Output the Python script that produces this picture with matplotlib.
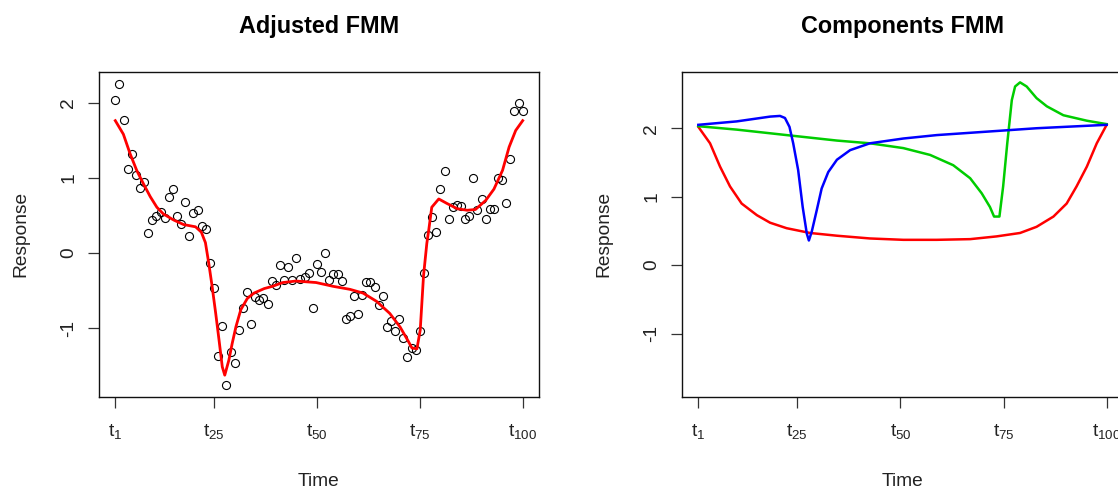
import numpy as np
import matplotlib.pyplot as plt

plt.rcParams['font.family'] = ['Liberation Sans', 'DejaVu Sans']
plt.rcParams['mathtext.fontset'] = 'custom'
plt.rcParams['mathtext.rm'] = 'Liberation Sans'
plt.rcParams['mathtext.it'] = 'Liberation Sans'

# observed responses at t1..t100
time = np.arange(1, 101)
response = [
    2.03, 2.25, 1.77, 1.12, 1.32, 1.04, 0.87, 0.94, 0.27, 0.44,
    0.49, 0.55, 0.47, 0.74, 0.85, 0.49, 0.39, 0.68, 0.23, 0.53,
    0.57, 0.36, 0.32, -0.13, -0.46, -1.36, -0.97, -1.75, -1.31, -1.46,
    -1.02, -0.73, -0.52, -0.94, -0.58, -0.62, -0.60, -0.67, -0.37, -0.42,
    -0.16, -0.35, -0.19, -0.35, -0.06, -0.34, -0.31, -0.26, -0.73, -0.15,
    -0.25, 0.00, -0.35, -0.28, -0.28, -0.37, -0.88, -0.84, -0.57, -0.81,
    -0.55, -0.38, -0.38, -0.45, -0.69, -0.57, -0.98, -0.90, -1.03, -0.88,
    -1.13, -1.38, -1.26, -1.29, -1.04, -0.26, 0.24, 0.48, 0.28, 0.85,
    1.09, 0.46, 0.61, 0.64, 0.63, 0.46, 0.49, 1.00, 0.58, 0.72,
    0.45, 0.59, 0.59, 1.00, 0.97, 0.67, 1.25, 1.89, 2.00, 1.89,
]

# fitted FMM curve
fit_t = [1, 2.96, 4.6, 6.2, 7.85, 9.5, 11.1, 12.7, 15.2, 17.6, 20.5, 21.9,
         22.9, 23.7, 24.5, 25.4, 26.2, 27.0, 27.6, 28.6, 29.4, 30.3, 31.5,
         33.1, 34.7, 37.2, 39.2, 41.7, 44.9, 49.8, 53.9, 58.0, 61.2, 64.5,
         67.7, 70.2, 72.2, 73.1, 74.3, 75.1, 75.9, 76.7, 77.2, 77.9, 79.6,
         81.6, 84.1, 86.5, 88.5, 91.0, 93.0, 95.1, 96.7, 98.3, 100]
fit_y = [1.76, 1.58, 1.32, 1.10, 0.92, 0.75, 0.61, 0.52, 0.44, 0.38, 0.35, 0.28,
         0.14, -0.13, -0.43, -0.80, -1.15, -1.51, -1.62, -1.42, -1.20, -0.98, -0.75,
         -0.60, -0.53, -0.47, -0.44, -0.39, -0.37, -0.39, -0.44, -0.48, -0.53, -0.64,
         -0.80, -0.98, -1.17, -1.26, -1.27, -1.02, -0.30, 0.13, 0.32, 0.61, 0.72,
         0.66, 0.59, 0.57, 0.58, 0.70, 0.85, 1.10, 1.41, 1.63, 1.76]

# components
red_t = [1, 3.84, 6.26, 8.68, 11.5, 15.2, 18.4, 22.4, 28.1, 34.6, 42.6, 50.7,
         58.8, 66.9, 73.3, 79.0, 83.0, 87.1, 90.3, 92.7, 95.2, 97.6, 100]
red_y = [2.02, 1.78, 1.44, 1.15, 0.90, 0.73, 0.62, 0.54, 0.47, 0.43, 0.39, 0.37,
         0.37, 0.38, 0.42, 0.47, 0.56, 0.71, 0.90, 1.15, 1.44, 1.78, 2.05]

blue_t = [1, 10.3, 18.4, 20.8, 22.0, 23.1, 24.0, 25.2, 26.3, 27.3, 27.8, 28.5,
          29.7, 30.9, 32.5, 34.6, 37.8, 42.6, 50.7, 58.8, 70.9, 83.0, 100]
blue_y = [2.05, 2.10, 2.17, 2.18, 2.15, 2.02, 1.78, 1.39, 0.85, 0.46, 0.36, 0.49,
          0.80, 1.12, 1.36, 1.54, 1.68, 1.78, 1.85, 1.90, 1.95, 2.00, 2.05]

green_t = [1, 10.3, 22.4, 34.6, 42.6, 50.7, 57.2, 62.8, 66.9, 69.7, 71.7, 72.7,
           74.0, 74.9, 75.9, 77.0, 77.8, 79.0, 80.6, 83.0, 85.5, 89.5, 95.2, 100]
green_y = [2.03, 1.98, 1.90, 1.82, 1.78, 1.71, 1.61, 1.46, 1.27, 1.05, 0.85, 0.71,
           0.71, 1.15, 1.78, 2.41, 2.61, 2.67, 2.61, 2.44, 2.32, 2.19, 2.11, 2.06]

tick_pos = [1, 25, 50, 75, 100]
tick_lab = [r'$\mathrm{t}_{1}$', r'$\mathrm{t}_{25}$', r'$\mathrm{t}_{50}$',
            r'$\mathrm{t}_{75}$', r'$\mathrm{t}_{100}$']

fs = 13.8


def style_axes(ax, title):
    ax.set_title(title, fontsize=16.8, fontweight='bold', pad=28)
    ax.set_xlim(1 - 0.04 * 99, 100 + 0.04 * 99)
    ax.set_xticks(tick_pos)
    ax.set_xticklabels(tick_lab)
    ax.set_yticks([-1, 0, 1, 2])
    ax.set_yticklabels(['-1', '0', '1', '2'])
    for lab in ax.get_yticklabels():
        lab.set_rotation(90)
        lab.set_va('center')
    ax.tick_params(axis='both', labelsize=fs, length=7.7, width=0.9,
                   color='#333333', labelcolor='#222222')
    ax.tick_params(axis='x', pad=10.5)
    ax.tick_params(axis='y', pad=8)
    ax.set_xlabel('Time', fontsize=fs, labelpad=23, color='#222222')
    ax.set_ylabel('Response', fontsize=fs, labelpad=22, color='#222222')
    for sp in ax.spines.values():
        sp.set_linewidth(1.0)
        sp.set_color('#111111')


fig = plt.figure(figsize=(11.18, 4.91), dpi=100)
ax1 = fig.add_axes([99 / 1118, 94 / 491, 440 / 1118, 325.3 / 491])
ax2 = fig.add_axes([682 / 1118, 94 / 491, 441 / 1118, 325.3 / 491])

ax1.plot(time, response, 'o', mfc='none', mec='black', ms=5.8, mew=0.8)
ax1.plot(fit_t, fit_y, color='#FF0000', lw=2.0)
ax1.set_ylim(-1.75 - 0.16, 2.25 + 0.16)
style_axes(ax1, 'Adjusted FMM')

ax2.plot(red_t, red_y, color='#FF0000', lw=1.8)
ax2.plot(green_t, green_y, color='#00CD00', lw=1.8)
ax2.plot(blue_t, blue_y, color='#0000FF', lw=1.8)
ax2.set_ylim(-1.75 - 0.176, 2.65 + 0.176)
style_axes(ax2, 'Components FMM')

fig.savefig('out.png', dpi=100)
